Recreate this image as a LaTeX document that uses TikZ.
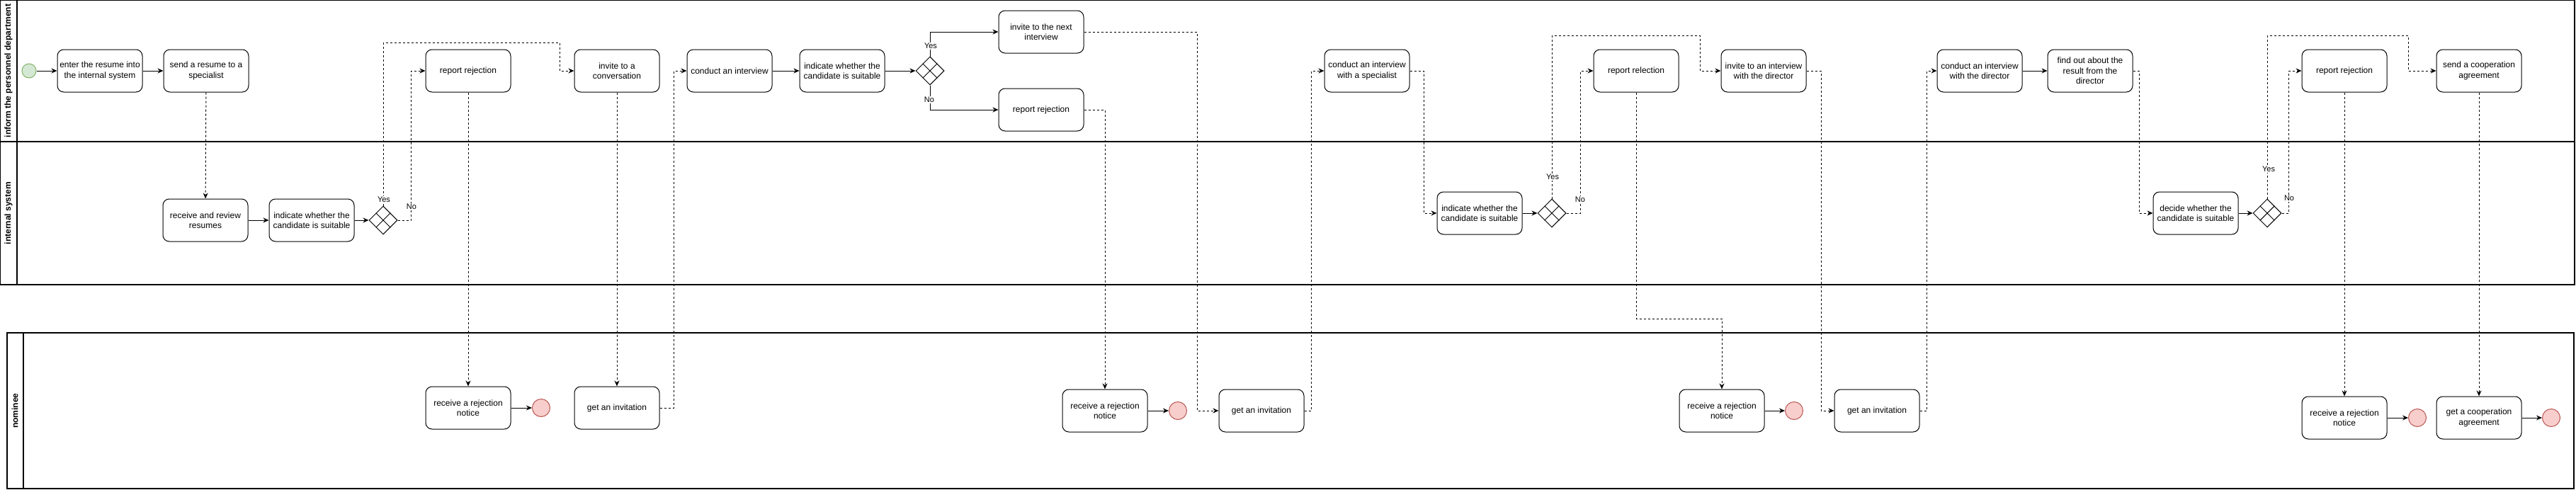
\documentclass[tikz,border=0pt]{standalone}
\usepackage{fontspec}
\setmainfont{Liberation Sans}
\usepackage{tikz}
\usetikzlibrary{shapes.geometric, arrows.meta}
\definecolor{startfill}{HTML}{D5E8D4}
\definecolor{startline}{HTML}{82B366}
\definecolor{endfill}{HTML}{F8CECC}
\definecolor{endline}{HTML}{B85450}
\def\toppool{(0,0) rectangle (3635,402)}
\def\nompool{(10,470) rectangle (3634,690)}
\def\lanes{(24,0) -- (24,402) (0,200) -- (3635,200) (33,470) -- (33,690)}

\begin{document}
\begin{tikzpicture}[x=1pt, y=-1pt,
	task/.style={draw, line width=1pt, rounded corners=9pt, minimum width=120pt, minimum height=60pt, align=center, inner sep=0pt, font=\fontsize{12}{14.4}\selectfont},
	gate/.style={draw, line width=1pt, diamond, minimum width=40pt, minimum height=40pt, inner sep=0pt},
	startev/.style={circle, draw=startline, fill=startfill, line width=1pt, minimum size=20pt, inner sep=0pt},
	endev/.style={circle, draw=endline, fill=endfill, line width=1pt, minimum size=25pt, inner sep=0pt},
	seq/.style={-{Stealth[length=8pt, width=7pt]}, line width=1pt},
	msg/.style={seq, dash pattern=on 3pt off 3pt},
	lbl/.style={fill=white, inner sep=1pt, font=\fontsize{11}{13}\selectfont},
	lane/.style={rotate=90, font=\bfseries\fontsize{12}{14.4}\selectfont}]
	\useasboundingbox (0,0) rectangle (3637,691);

	% pools
	\draw[line width=1.2pt] \toppool;
	\draw[line width=1.2pt] \nompool;
	\draw[line width=1.2pt] \lanes;
	\node[lane] (hr) at (12,100) {inform the personnel department};
	\node[lane] (sys) at (12,301) {internal system};
	\node[lane] (nom) at (21,580) {nominee};

	% personnel department
	\node[startev] (start) at (41,100) {};
	\node[task] (enter) at (141,100) {enter the resume into\\the internal system};
	\node[task] (sendres) at (291,100) {send a resume to a\\specialist};
	\node[task] (rej1) at (661,100) {report rejection};
	\node[task] (conv) at (871,100) {invite to a\\conversation};
	\node[task] (interv) at (1030,100) {conduct an interview};
	\node[task] (ind2) at (1189,100) {indicate whether the\\candidate is suitable};
	\node[gate] (gw2) at (1313,100) {};
	\node[task] (next) at (1470,45) {invite to the next\\interview};
	\node[task] (rej2) at (1470,155) {report rejection};
	\node[task] (spec) at (1930,100) {conduct an interview\\with a specialist};
	\node[task] (rej3) at (2310,100) {report relection};
	\node[task] (invdir) at (2490,100) {invite to an interview\\with the director};
	\node[task] (condir) at (2795,100) {conduct an interview\\with the director};
	\node[task] (findout) at (2951,100) {find out about the\\result from the\\director};
	\node[task] (rej4) at (3310,100) {report rejection};
	\node[task] (sendcoop) at (3500,100) {send a cooperation\\agreement};

	% internal system
	\node[task] (review) at (290,311) {receive and review\\resumes};
	\node[task] (ind1) at (440,311) {indicate whether the\\candidate is suitable};
	\node[gate] (gw1) at (541,311) {};
	\node[task] (ind3) at (2089,301) {indicate whether the\\candidate is suitable};
	\node[gate] (gw3) at (2191,301) {};
	\node[task] (decide) at (3100,301) {decide whether the\\candidate is suitable};
	\node[gate] (gw4) at (3201,301) {};

	% nominee
	\node[task] (recv1) at (661,576) {receive a rejection\\notice};
	\node[endev] (end1) at (764,576) {};
	\node[task] (getinv1) at (871,576) {get an invitation};
	\node[task] (recv2) at (1560,580) {receive a rejection\\notice};
	\node[endev] (end2) at (1663,580) {};
	\node[task] (getinv2) at (1781,580) {get an invitation};
	\node[task] (recv3) at (2431,580) {receive a rejection\\notice};
	\node[endev] (end3) at (2533,580) {};
	\node[task] (getinv3) at (2650,580) {get an invitation};
	\node[task] (recv4) at (3310,590) {receive a rejection\\notice};
	\node[endev] (end4) at (3413,590) {};
	\node[task] (getcoop) at (3500,590) {get a cooperation\\agreement};
	\node[endev] (end5) at (3602,590) {};

	\foreach \g in {gw1,gw2,gw3,gw4}
		\draw[line width=1pt] (\g.north west) -- (\g.south east) (\g.north east) -- (\g.south west);

	% sequence flows
	\draw[seq] (start) -- (enter);
	\draw[seq] (enter) -- (sendres);
	\draw[seq] (review) -- (ind1);
	\draw[seq] (ind1) -- (gw1);
	\draw[seq] (interv) -- (ind2);
	\draw[seq] (ind2) -- (gw2);
	\draw[seq] (gw2.north) |- (next.west);
	\draw[seq] (gw2.south) |- (rej2.west);
	\draw[seq] (ind3) -- (gw3);
	\draw[seq] (condir) -- (findout);
	\draw[seq] (decide) -- (gw4);
	\draw[seq] (recv1) -- (end1);
	\draw[seq] (recv2) -- (end2);
	\draw[seq] (recv3) -- (end3);
	\draw[seq] (recv4) -- (end4);
	\draw[seq] (getcoop) -- (end5);

	% message flows
	\draw[msg] (sendres) -- (review);
	\draw[msg] (gw1.north) |- (790,60) |- (conv.west);
	\draw[msg] (gw1.east) -| (580,100) -- (rej1.west);
	\draw[msg] (rej1) -- (recv1);
	\draw[msg] (conv) -- (getinv1);
	\draw[msg] (getinv1.east) -| (951,100) -- (interv.west);
	\draw[msg] (rej2.east) -| (recv2.north);
	\draw[msg] (next.east) -| (1690,580) -- (getinv2.west);
	\draw[msg] (getinv2.east) -| (1851,100) -- (spec.west);
	\draw[msg] (spec.east) -| (2010,301) -- (ind3.west);
	\draw[msg] (gw3.north) |- (2400,50) |- (invdir.west);
	\draw[msg] (gw3.east) -| (2231,100) -- (rej3.west);
	\draw[msg] (rej3.south) |- (2431,450) -- (recv3.north);
	\draw[msg] (invdir.east) -| (2571,580) -- (getinv3.west);
	\draw[msg] (getinv3.east) -| (2720,100) -- (condir.west);
	\draw[msg] (findout.east) -| (3020,301) -- (decide.west);
	\draw[msg] (gw4.north) |- (3400,50) |- (sendcoop.west);
	\draw[msg] (gw4.east) -| (3231,100) -- (rej4.west);
	\draw[msg] (rej4) -- (recv4);
	\draw[msg] (sendcoop) -- (getcoop);

	% gateway labels
	\node[lbl] (y1) at (542,282) {Yes};
	\node[lbl] (n1) at (581,292) {No};
	\node[lbl] (y2) at (1314,65) {Yes};
	\node[lbl] (n2) at (1312,141) {No};
	\node[lbl] (y3) at (2192,250) {Yes};
	\node[lbl] (n3) at (2231,282) {No};
	\node[lbl] (y4) at (3203,239) {Yes};
	\node[lbl] (n4) at (3232,280) {No};
\end{tikzpicture}
\end{document}
